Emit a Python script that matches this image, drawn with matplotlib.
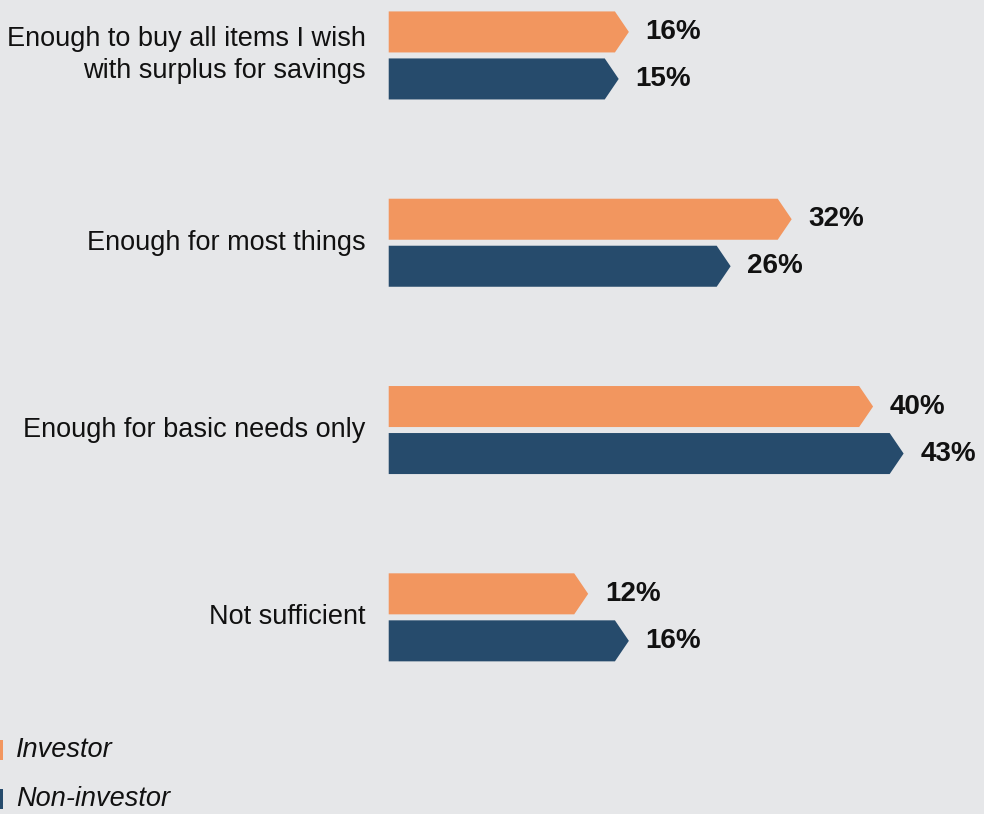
import matplotlib
matplotlib.use("Agg")
import matplotlib.pyplot as plt
from matplotlib.patches import Polygon, Rectangle

plt.rcParams["font.family"] = ["Liberation Sans", "DejaVu Sans"]

# --- data ---
categories = [
    "Enough to buy all items I wish\nwith surplus for savings",
    "Enough for most things",
    "Enough for basic needs only",
    "Not sufficient",
]
investor = [16, 32, 40, 12]
non_investor = [15, 26, 43, 16]
series_names = ["Investor", "Non-investor"]

# --- style ---
BG = "#E6E7E9"
COLOR_INV = "#F2965F"
COLOR_NON = "#264B6C"
BAR_START = -7.6     # bars start left of zero (as in the original layout)
BAR_H = 0.219
BAR_OFF = 0.1255
TIP = 1.37           # arrow tip length in data units


def arrow_bar(ax, y, v, color):
    pts = [
        (BAR_START, y - BAR_H / 2),
        (v - TIP, y - BAR_H / 2),
        (v, y),
        (v - TIP, y + BAR_H / 2),
        (BAR_START, y + BAR_H / 2),
    ]
    ax.add_patch(Polygon(pts, closed=True, facecolor=color, edgecolor="none"))


fig = plt.figure(figsize=(9.84, 8.14), dpi=100, facecolor=BG)
ax = fig.add_axes([0, 0, 1, 1])
ax.set_facecolor(BG)
ax.set_xlim(-45.8, 50.9)
ax.set_ylim(4.05, -0.296)
ax.axis("off")

for i, cat in enumerate(categories):
    for v, off, col in ((investor[i], -BAR_OFF, COLOR_INV), (non_investor[i], BAR_OFF, COLOR_NON)):
        arrow_bar(ax, i + off, v, col)
        ax.annotate(f"{v}%", xy=(v, i + off), xytext=(12, 0), textcoords="offset points",
                    ha="left", va="center", fontsize=20, fontweight="bold", color="#111111")
    ax.annotate(cat, xy=(BAR_START, i), xytext=(-16.5, 0), textcoords="offset points",
                ha="right", va="center", fontsize=19.5, color="#111111", linespacing=1.3)

# --- legend ---
W, H = 984, 814
for name, col, yc in ((series_names[0], COLOR_INV, 750), (series_names[1], COLOR_NON, 799)):
    fig.patches.append(Rectangle((0, 1 - (yc + 10) / H), 3 / W, 20 / H,
                                 transform=fig.transFigure, facecolor=col, edgecolor="none"))
    fig.text(16 / W, 1 - yc / H, name, ha="left", va="center", fontsize=19.5,
             style="italic", color="#111111")

fig.savefig("out.png", dpi=100, facecolor=BG)
